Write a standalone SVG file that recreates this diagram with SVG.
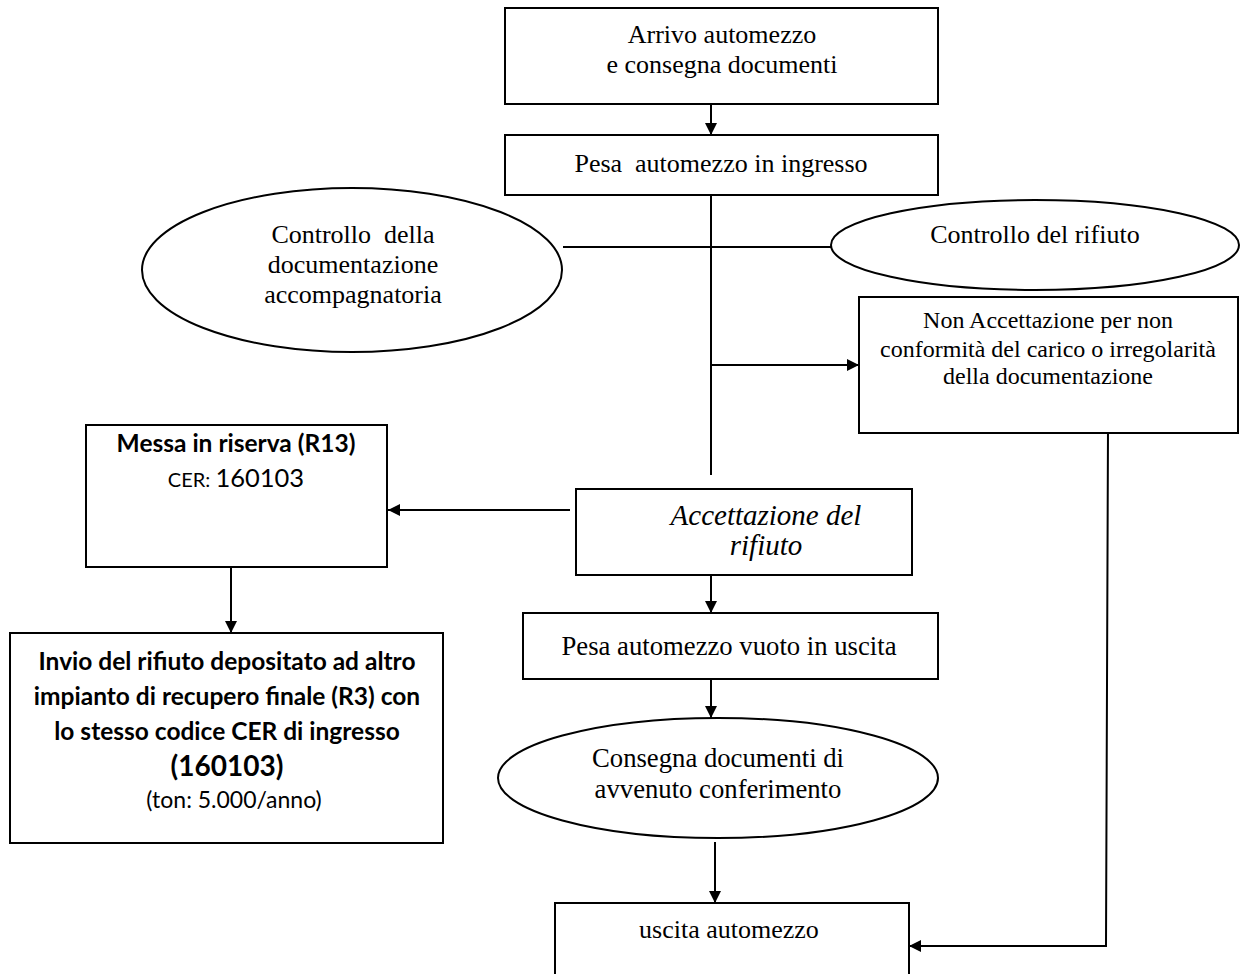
<svg xmlns="http://www.w3.org/2000/svg" width="1240" height="974" viewBox="0 0 1240 974">
<defs>
<marker id="ah" viewBox="0 0 12 12" refX="12" refY="6" markerWidth="12" markerHeight="12" markerUnits="userSpaceOnUse" orient="auto">
<path d="M0,0 L12,6 L0,12 Z" fill="#000"/>
</marker>
</defs>
<style>
.b{fill:#fff;stroke:#000;stroke-width:2}
.t{font-family:"Liberation Serif","Times New Roman",serif;font-size:26px;fill:#000;text-anchor:middle}
.ts{font-size:24px}
.tl{font-size:26.7px}
.ti{font-style:italic;font-size:29px}
.c{font-family:Lato,"Liberation Sans",sans-serif;font-size:24.5px;fill:#000;text-anchor:middle}
.bold{font-weight:bold}
.ln{fill:none;stroke:#000;stroke-width:2}
</style>
<rect width="1240" height="974" fill="#fff"/>
<g id="connectors">
<line class="ln" x1="711" y1="104" x2="711" y2="135" marker-end="url(#ah)"/>
<line class="ln" x1="711" y1="195" x2="711" y2="475"/>
<line class="ln" x1="563" y1="247" x2="831" y2="247"/>
<line class="ln" x1="711" y1="365" x2="859" y2="365" marker-end="url(#ah)"/>
<line class="ln" x1="570" y1="510" x2="388" y2="510" marker-end="url(#ah)"/>
<line class="ln" x1="231" y1="567" x2="231" y2="633" marker-end="url(#ah)"/>
<line class="ln" x1="711" y1="575" x2="711" y2="613" marker-end="url(#ah)"/>
<line class="ln" x1="711" y1="679" x2="711" y2="718" marker-end="url(#ah)"/>
<line class="ln" x1="715" y1="842" x2="715" y2="903" marker-end="url(#ah)"/>
<polyline class="ln" points="1108,428 1106,946 909,946" marker-end="url(#ah)"/>
</g>
<g id="n1">
<rect class="b" x="505" y="8" width="433" height="96"/>
<text class="t" x="722" y="43">Arrivo automezzo</text>
<text class="t" x="722" y="73">e consegna documenti</text>
</g>
<g id="n2">
<rect class="b" x="505" y="135" width="433" height="60"/>
<text class="t" x="721" y="172" xml:space="preserve">Pesa  automezzo in ingresso</text>
</g>
<g id="n3">
<ellipse class="b" cx="352" cy="270" rx="210" ry="82"/>
<text class="t" x="353" y="243" xml:space="preserve">Controllo  della</text>
<text class="t" x="353" y="273">documentazione</text>
<text class="t" x="353" y="303">accompagnatoria</text>
</g>
<g id="n4">
<ellipse class="b" cx="1035" cy="245" rx="204" ry="45"/>
<text class="t" x="1035" y="243">Controllo del rifiuto</text>
</g>
<g id="n5">
<rect class="b" x="859" y="297" width="379" height="136"/>
<text class="t ts" x="1048" y="328">Non Accettazione per non</text>
<text class="t ts" x="1048" y="357">conformità del carico o irregolarità</text>
<text class="t ts" x="1048" y="384">della documentazione</text>
</g>
<g id="n6">
<rect class="b" x="86" y="425" width="301" height="142"/>
<text class="c bold" x="236" y="452">Messa in riserva (R13)</text>
<text class="c" x="236" y="487" style="font-size:20px">CER: <tspan style="font-size:25.5px">160103</tspan></text>
</g>
<g id="n7">
<rect class="b" x="576" y="489" width="336" height="86"/>
<text class="t ti" x="766" y="525">Accettazione del</text>
<text class="t ti" x="766" y="555">rifiuto</text>
</g>
<g id="n8">
<rect class="b" x="523" y="613" width="415" height="66"/>
<text class="t tl" x="729" y="655">Pesa automezzo vuoto in uscita</text>
</g>
<g id="n9">
<rect class="b" x="10" y="633" width="433" height="210"/>
<text class="c bold" x="227" y="670">Invio del rifiuto depositato ad altro</text>
<text class="c bold" x="227" y="705">impianto di recupero finale (R3) con</text>
<text class="c bold" x="227" y="740">lo stesso codice CER di ingresso</text>
<text class="c bold" x="227" y="776" style="font-size:28px">(160103)</text>
<text class="c" x="234" y="808" style="font-size:23px">(ton: 5.000/anno)</text>
</g>
<g id="n10">
<ellipse class="b" cx="718" cy="778" rx="220" ry="60"/>
<text class="t tl" x="718" y="767">Consegna documenti di</text>
<text class="t tl" x="718" y="798">avvenuto conferimento</text>
</g>
<g id="n11">
<rect class="b" x="555" y="903" width="354" height="80"/>
<text class="t" x="729" y="938">uscita automezzo</text>
</g>
</svg>
